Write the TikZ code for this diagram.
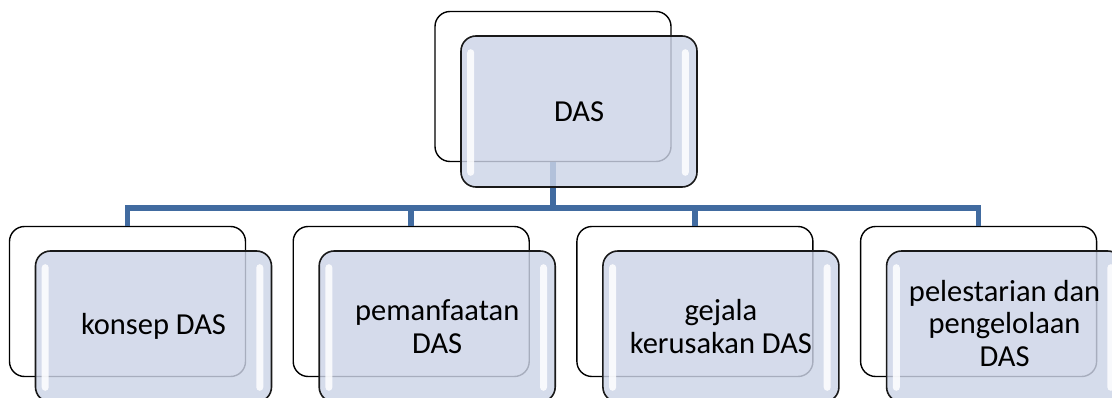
\documentclass[tikz,border=0pt]{standalone}
\usepackage{fontspec}
\setmainfont{Carlito}
\definecolor{conn}{RGB}{65,107,160}
\definecolor{frontfill}{RGB}{204,212,231}
\definecolor{edgecol}{RGB}{25,25,25}
\begin{document}
\begin{tikzpicture}[x=1pt,y=-1pt,
  backbox/.style={draw=black, line width=1.4pt, fill=white, rounded corners=15pt,
    minimum width=236pt, minimum height=150pt, inner sep=0pt},
  frontbox/.style={draw=edgecol, line width=1.6pt, fill=frontfill, fill opacity=0.82,
    rounded corners=15pt, minimum width=236pt, minimum height=151pt, inner sep=0pt},
  hl/.style={fill=white, fill opacity=0.85, rounded corners=3.5pt},
  lbl/.style={align=center, font=\fontsize{30.5}{32.5}\selectfont, text=black, inner sep=0pt},
  connector/.style={draw=conn, line width=5.5pt, line join=miter}]
\useasboundingbox (0,0) rectangle (1112,398);

% back boxes
\node[backbox] (b0) at (553,86.5) {};
\node[backbox] (b1) at (127.5,301.5) {};
\node[backbox] (b2) at (411.2,301.5) {};
\node[backbox] (b3) at (694.9,301.5) {};
\node[backbox] (b4) at (978.6,301.5) {};

% connectors
\coordinate (hub) at (553,208);
\draw[connector] (b0.south) -- (hub);
\draw[connector] (b1.north) |- (hub) -| (b4.north);
\draw[connector] (b2.north) -- (b2.north |- hub);
\draw[connector] (b3.north) -- (b3.north |- hub);

% front boxes
\node[frontbox] (f0) at (579,111.5) {};
\node[frontbox] (f1) at (153.5,326.5) {};
\node[frontbox] (f2) at (437.2,326.5) {};
\node[frontbox] (f3) at (720.9,326.5) {};
\node[frontbox] (f4) at (1004.6,326.5) {};

% highlights
\foreach \f in {f0,f1,f2,f3,f4}{
  \fill[hl] ([xshift=7pt,yshift=-14pt]\f.north west) rectangle ([xshift=14pt,yshift=12pt]\f.south west);
  \fill[hl] ([xshift=-16pt,yshift=-14pt]\f.north east) rectangle ([xshift=-9pt,yshift=12pt]\f.south east);
}

% labels
\node[lbl] (t0) at (f0.center) {DAS};
\node[lbl] (t1) at (f1.center) {konsep DAS};
\node[lbl] (t2) at (f2.center) {pemanfaatan\\DAS};
\node[lbl] (t3) at (f3.center) {gejala\\kerusakan DAS};
\node[lbl] (t4) at ([yshift=3pt]f4.center) {pelestarian dan\\pengelolaan\\DAS};
\end{tikzpicture}
\end{document}
